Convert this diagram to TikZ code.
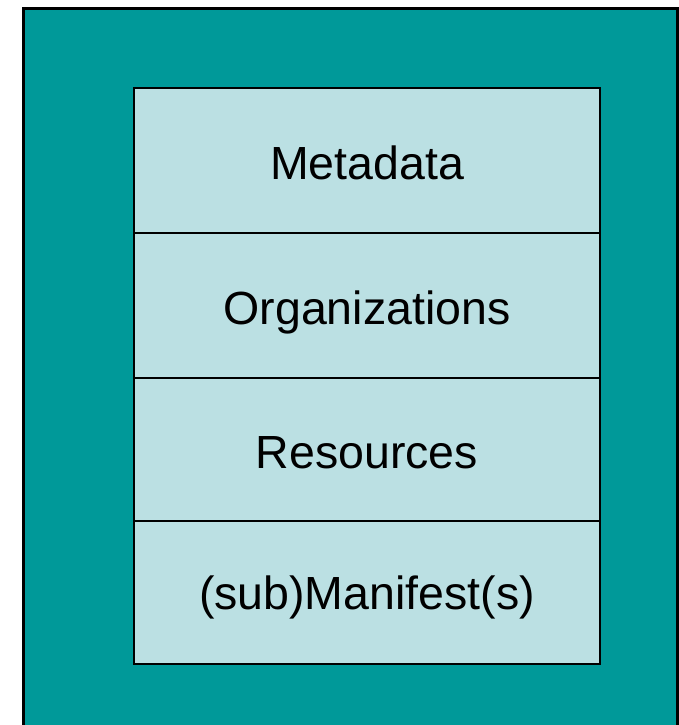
\documentclass[tikz,border=0pt]{standalone}
\usepackage{fontspec}
\setmainfont{Liberation Sans}
\definecolor{tealbg}{RGB}{0,153,153}
\definecolor{lightcell}{RGB}{187,224,227}
\begin{document}
\begin{tikzpicture}[x=1pt,y=1pt,
  cell/.style={draw=black,line width=2.2pt,fill=lightcell},
  celltext/.style={anchor=base,inner sep=0pt,font=\fontsize{46.5}{50}\selectfont}]
\useasboundingbox (0,0) rectangle (679,725);
\begin{scope}
\clip (0,0) rectangle (679,725);
\draw[line width=3pt,fill=tealbg] (23,-10) rectangle (677,716);
\end{scope}
\draw[cell] (134,492) rectangle (600,637) coordinate (c1);
\draw[cell] (134,347) rectangle (600,492);
\draw[cell] (134,204) rectangle (600,347);
\draw[cell] (134,61) rectangle (600,204);
\node[celltext] (t1) at (367,545.5) {Metadata};
\node[celltext] (t2) at (367,400.5) {Organizations};
\node[celltext] (t3) at (367,256) {Resources};
\node[celltext] (t4) at (367,115) {(sub)Manifest(s)};
\end{tikzpicture}
\end{document}
